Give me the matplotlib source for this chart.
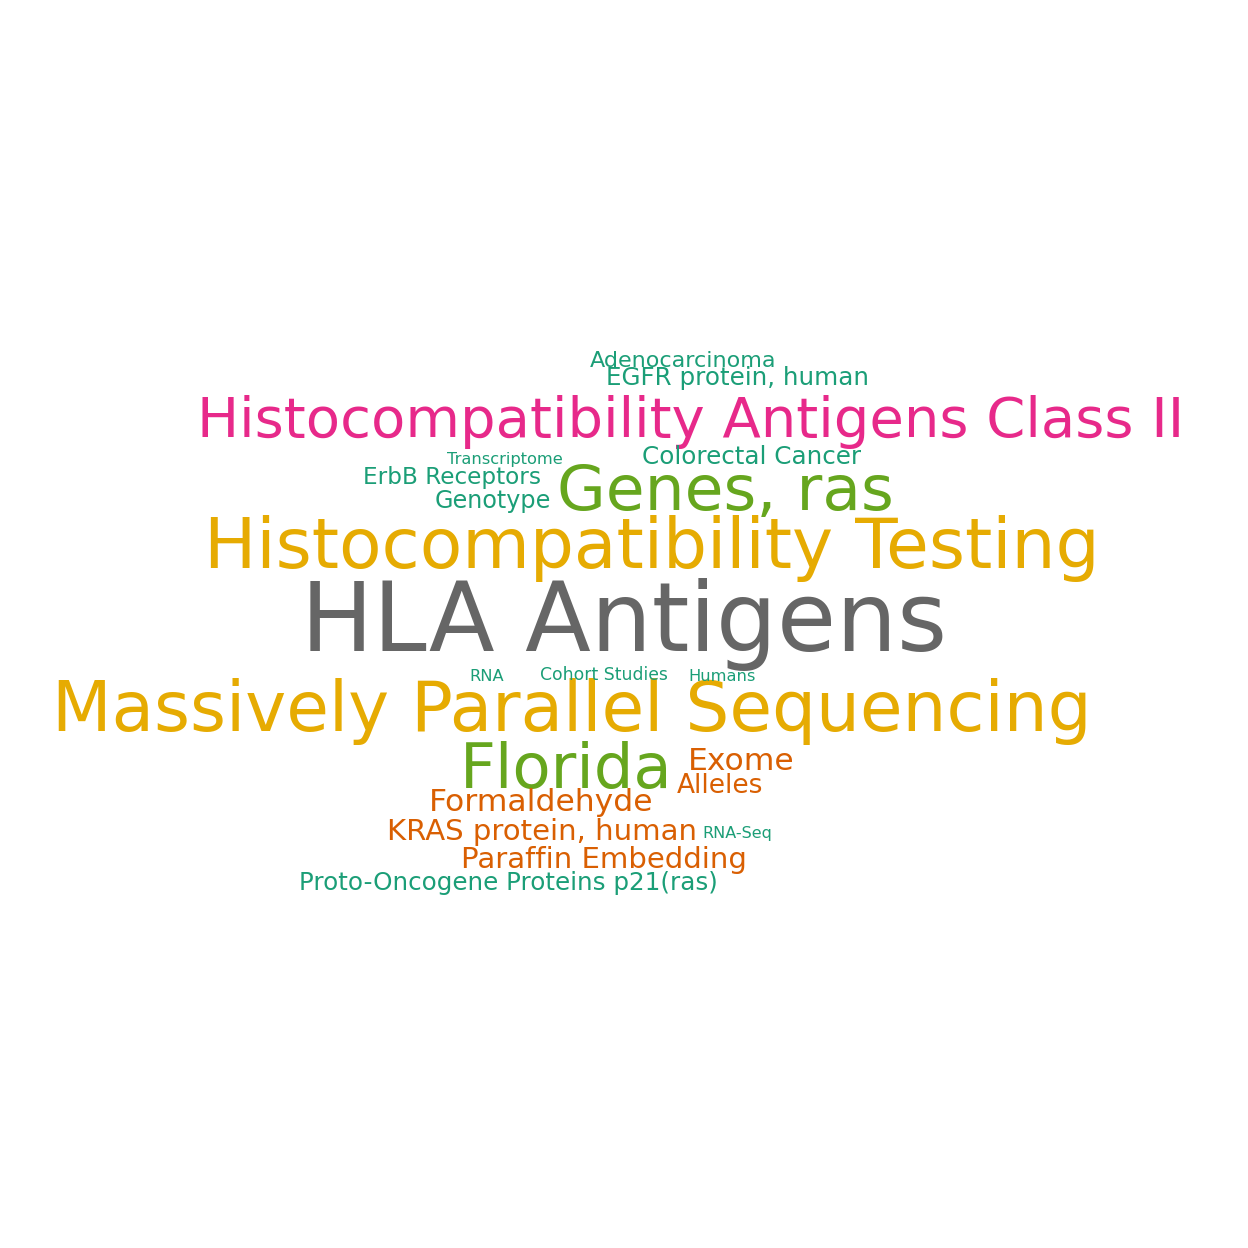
import matplotlib
matplotlib.use('Agg')
import matplotlib.pyplot as plt

# word cloud terms, their weights (drawn as font size, pt) and colour group
words = [
    'HLA Antigens',
    'Histocompatibility Testing',
    'Massively Parallel Sequencing',
    'Histocompatibility Antigens Class II',
    'Genes, ras',
    'Florida',
    'Exome',
    'Formaldehyde',
    'KRAS protein, human',
    'Paraffin Embedding',
    'Alleles',
    'Proto-Oncogene Proteins p21(ras)',
    'EGFR protein, human',
    'Colorectal Cancer',
    'Adenocarcinoma',
    'ErbB Receptors',
    'Genotype',
    'Transcriptome',
    'Cohort Studies',
    'Humans',
    'RNA',
    'RNA-Seq',
]
weights = [69.2, 50, 49.9, 40.3, 45.4, 45, 22.6, 22.6, 21, 21, 19,
           17.7, 17.7, 17.7, 16, 16.7, 17.2, 11.7, 12.4, 11.7, 11.7, 11.5]
groups = ['grey', 'yellow', 'yellow', 'pink', 'green', 'green',
          'orange', 'orange', 'orange', 'orange', 'orange',
          'teal', 'teal', 'teal', 'teal', 'teal', 'teal',
          'teal', 'teal', 'teal', 'teal', 'teal']

palette = {
    'grey': '#666666',
    'yellow': '#E6AB02',
    'pink': '#E7298A',
    'green': '#66A61E',
    'orange': '#D95F02',
    'teal': '#1B9E77',
}

# layout of the cloud: (centre x, baseline y) in pixels from the top-left
layout = [
    (624, 651), (652, 568), (572, 731), (691, 437), (725, 510), (566, 788),
    (741, 770), (541, 811), (542, 840), (604, 868), (720, 793),
    (508, 890), (738, 385), (752, 464), (683, 367), (452, 484), (493, 508),
    (505, 464), (604, 680), (722, 681), (487, 681), (737, 838),
]

fig = plt.figure(figsize=(12.48, 12.48), dpi=100)
ax = fig.add_axes([0, 0, 1, 1])
ax.set_xlim(0, 1248)
ax.set_ylim(1248, 0)
ax.axis('off')

for word, w, g, (x, y) in zip(words, weights, groups, layout):
    ax.text(x, y, word, fontsize=w, color=palette[g], family='DejaVu Sans',
            ha='center', va='baseline')

fig.savefig('out.png', dpi=100, facecolor='white')
